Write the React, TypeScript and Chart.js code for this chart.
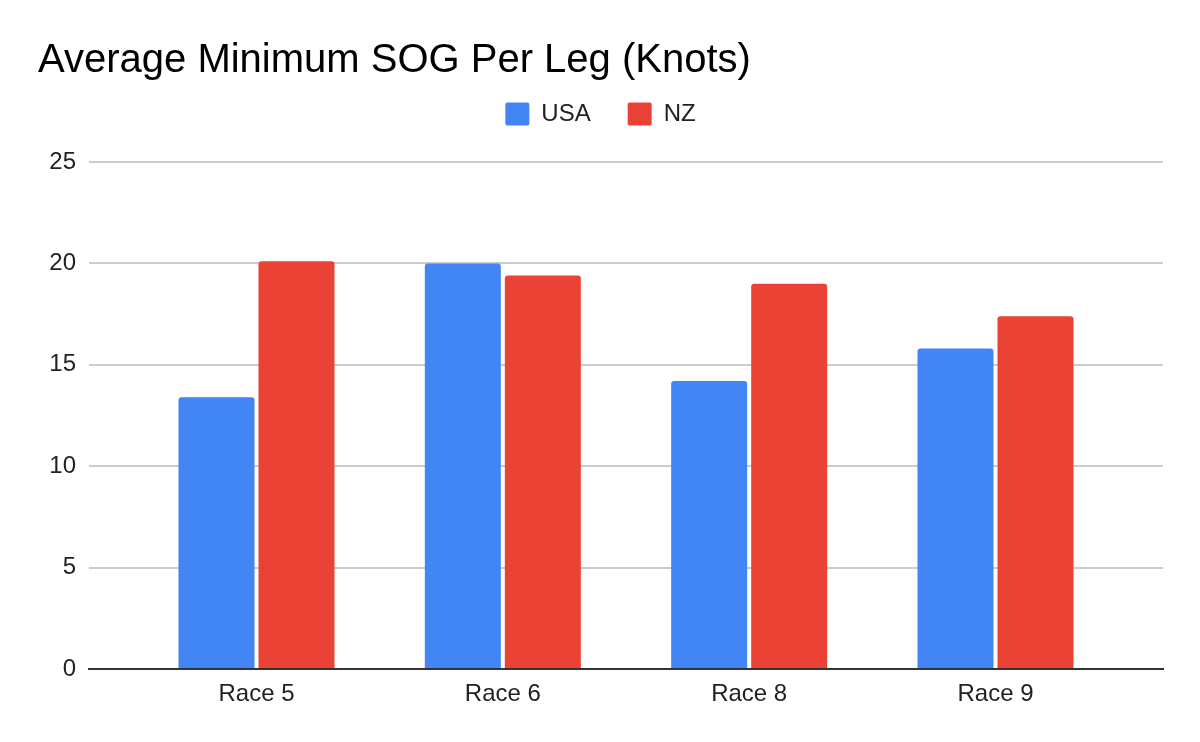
import React, { useEffect, useRef } from "react";
import { Chart, registerables } from "chart.js";

Chart.register(...registerables);

const categories = ["Race 5", "Race 6", "Race 8", "Race 9"];
const usaValues = [13.4, 20.0, 14.2, 15.8];
const nzValues = [20.1, 19.4, 19.0, 17.4];
const yTicks = [0, 5, 10, 15, 20, 25];

const FONT = '"Liberation Sans", Arial, Helvetica, sans-serif';

export default function App() {
  const canvasRef = useRef<HTMLCanvasElement | null>(null);

  useEffect(() => {
    if (!canvasRef.current) return;
    Chart.defaults.font.family = FONT;

    const legendMargin = {
      id: "legendMargin",
      beforeInit(chart: any) {
        const legend = chart.legend;
        if (!legend) return;
        const origFit = legend.fit;
        legend.fit = function () {
          origFit.call(this);
          this.height += 26;
        };
      },
    };

    const chart = new Chart(canvasRef.current, {
      type: "bar",
      data: {
        datasets: [
          {
            label: "USA",
            data: usaValues.map((v, i) => ({ x: i, y: v })),
            backgroundColor: "#4285F4",
            borderWidth: 0,
            borderRadius: 3,
            categoryPercentage: 0.6496,
            barPercentage: 0.95,
          },
          {
            label: "NZ",
            data: nzValues.map((v, i) => ({ x: i, y: v })),
            backgroundColor: "#EA4335",
            borderWidth: 0,
            borderRadius: 3,
            categoryPercentage: 0.6496,
            barPercentage: 0.95,
          },
        ],
      },
      plugins: [legendMargin],
      options: {
        animation: false,
        responsive: true,
        maintainAspectRatio: false,
        layout: { padding: { left: 38, right: 37, top: 0, bottom: 0 } },
        plugins: {
          title: {
            display: true,
            text: "Average Minimum SOG Per Leg (Knots)",
            align: "start",
            color: "#000",
            font: { family: FONT, size: 40, weight: "normal", lineHeight: 0.2 },
            padding: { top: 57, bottom: 0 },
          },
          legend: {
            display: true,
            position: "top",
            align: "center",
            labels: {
              color: "#222",
              font: { family: FONT, size: 24 },
              boxWidth: 24,
              boxHeight: 23,
              padding: 37,
              useBorderRadius: true,
              borderRadius: 2,
            },
          },
          tooltip: { enabled: false },
        },
        scales: {
          x: {
            type: "linear",
            min: -0.68,
            max: 3.68,
            offset: false,
            bounds: "ticks",
            z: 1,
            afterBuildTicks(scale: any) {
              scale.ticks = categories.map((_, i) => ({ value: i }));
            },
            afterDataLimits(scale: any) {
              scale.min = -0.68;
              scale.max = 3.68;
            },
            afterFit(scale: any) {
              scale.height = 73;
            },
            ticks: {
              autoSkip: false,
              maxRotation: 0,
              padding: 3,
              color: "#222",
              font: { family: FONT, size: 24 },
              callback: (v: any) => categories[Math.round(Number(v))] ?? "",
            },
            grid: { display: false, offset: false },
            border: { display: true, color: "#333", width: 2 },
          },
          y: {
            min: 0,
            max: 25,
            afterBuildTicks(scale: any) {
              scale.ticks = yTicks.map((v) => ({ value: v }));
            },
            afterFit(scale: any) {
              scale.width = 51;
            },
            ticks: {
              padding: 13,
              color: "#222",
              font: { family: FONT, size: 24 },
            },
            grid: { color: "#cccccc", lineWidth: 2, drawTicks: false },
            border: { display: false },
          },
        },
      },
    });

    return () => chart.destroy();
  }, []);

  return (
    <div
      style={{
        position: "absolute",
        left: 0,
        top: 0,
        width: 1200,
        height: 742,
        background: "#fff",
      }}
    >
      <canvas ref={canvasRef} />
    </div>
  );
}
